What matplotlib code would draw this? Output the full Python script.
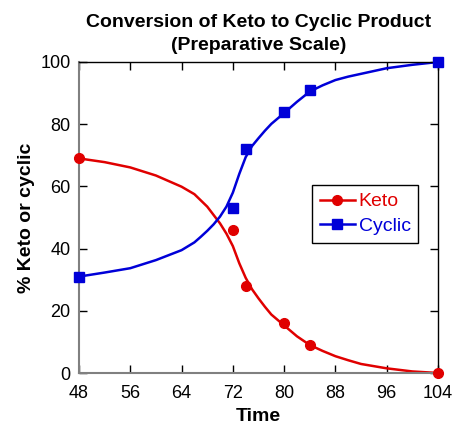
import matplotlib
matplotlib.use('Agg')
from matplotlib import pyplot as plt

plt.rcParams['font.family'] = ['Liberation Sans', 'DejaVu Sans']

# measured points
time_pts = [48, 72, 74, 80, 84, 104]
keto_pts = [69, 46, 28, 16, 9, 0]
cyclic_pts = [31, 53, 72, 84, 91, 100]

# fitted curves
fit_time = [48, 52, 56, 60, 64, 66, 67, 68, 69, 70, 71, 72, 73, 74, 75, 76,
            77, 78, 80, 82, 84, 86, 88, 90, 92, 96, 100, 104]
keto_fit = [69.0, 67.8, 66.1, 63.5, 59.9, 57.5, 55.5, 53.5, 50.8, 48.1, 44.8,
            40.8, 35.3, 30.6, 26.9, 24.0, 21.3, 18.8, 15.3, 11.8, 9.0, 7.1, 5.4,
            4.1, 2.9, 1.5, 0.5, 0.0]
cyclic_fit = [31.0, 32.3, 33.7, 36.3, 39.5, 42.0, 43.8, 45.7, 47.8, 50.3, 53.5,
              58.0, 64.0, 69.4, 73.0, 75.5, 77.9, 80.1, 83.6, 87.2, 90.5, 92.5,
              94.2, 95.3, 96.2, 98.0, 99.1, 100.0]

xticks = [48, 56, 64, 72, 80, 88, 96, 104]
yticks = [0, 20, 40, 60, 80, 100]

red = '#e00000'
blue = '#0000d8'

fig = plt.figure(figsize=(4.53, 4.25), dpi=100)
ax = fig.add_axes([79/453, 1-373/425, (438-79)/453, (373-62)/425])

ax.plot(fit_time, keto_fit, color=red, lw=1.8, zorder=2)
ax.plot(fit_time, cyclic_fit, color=blue, lw=1.8, zorder=2)
ax.plot(time_pts, keto_pts, 'o', color=red, ms=7, zorder=3, clip_on=False)
ax.plot(time_pts, cyclic_pts, 's', color=blue, ms=7, zorder=3, clip_on=False)

# legend proxies
k, = ax.plot([], [], '-o', color=red, lw=1.8, ms=7)
c, = ax.plot([], [], '-s', color=blue, lw=1.8, ms=7)
leg = ax.legend([k, c], ['Keto', 'Cyclic'], loc='upper left',
                bbox_to_anchor=(312/453, 1-185/425), bbox_transform=fig.transFigure,
                fancybox=False, framealpha=1, edgecolor='black', fontsize=14,
                handlelength=1.8, handletextpad=0.2, borderpad=0.4,
                labelspacing=0.35, borderaxespad=0)
leg.get_frame().set_linewidth(1.0)
for txt, col in zip(leg.get_texts(), [red, blue]):
    txt.set_color(col)

ax.set_xlim(48, 104)
ax.set_ylim(0, 100)
ax.set_xticks(xticks)
ax.set_yticks(yticks)
ax.tick_params(direction='in', length=6, width=1, labelsize=13, top=True, right=True)
ax.tick_params(axis='x', pad=9)
ax.tick_params(axis='y', pad=6)

for s in ['left', 'bottom']:
    ax.spines[s].set_color('#808080')
    ax.spines[s].set_linewidth(1.5)
for s in ['top', 'right']:
    ax.spines[s].set_color('black')
    ax.spines[s].set_linewidth(1.0)

ax.set_title('Conversion of Keto to Cyclic Product\n(Preparative Scale)',
             fontsize=14, fontweight='bold', pad=9, linespacing=1.4)
ax.set_xlabel('Time', fontsize=14, fontweight='bold', labelpad=4)
ax.set_ylabel('% Keto or cyclic', fontsize=14, fontweight='bold', labelpad=4)

fig.savefig('out.png', dpi=100)
